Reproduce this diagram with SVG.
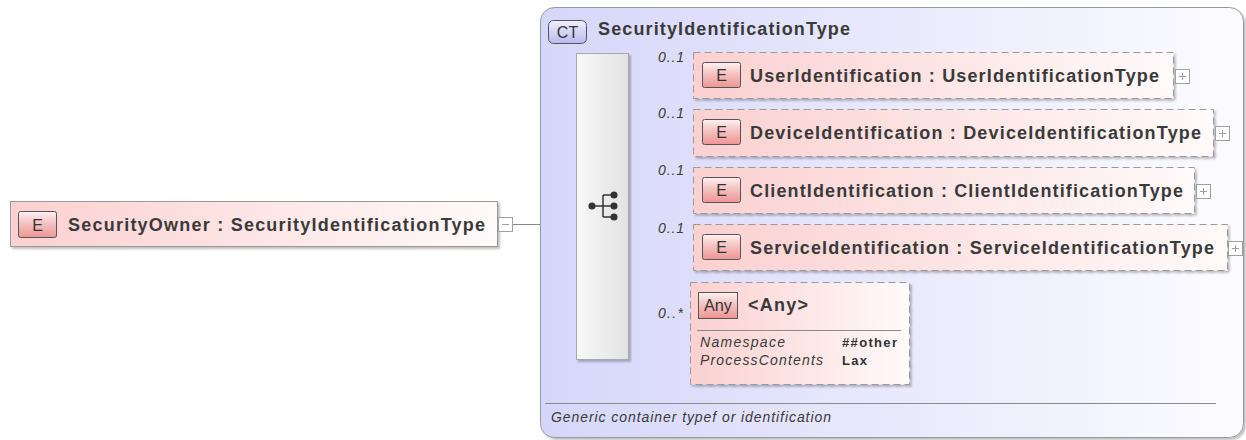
<svg xmlns="http://www.w3.org/2000/svg" width="1246" height="440" viewBox="0 0 1246 440">
<defs>
<linearGradient id="elemGrad" x1="0" y1="0" x2="1" y2="0"><stop offset="0" stop-color="#fbd0d0"/><stop offset="1" stop-color="#fffafa"/></linearGradient>
<linearGradient id="badgeGrad" x1="0" y1="0" x2="0" y2="1"><stop offset="0" stop-color="#fdf2f2"/><stop offset="0.45" stop-color="#f6c2c2"/><stop offset="1" stop-color="#ee9494"/></linearGradient>
<linearGradient id="ctGrad" x1="0" y1="0" x2="1" y2="0"><stop offset="0" stop-color="#d6d6fa"/><stop offset="1" stop-color="#fcfcff"/></linearGradient>
<linearGradient id="ctBadge" x1="0" y1="0" x2="0" y2="1"><stop offset="0" stop-color="#f0f0ff"/><stop offset="1" stop-color="#b8b8f0"/></linearGradient>
<linearGradient id="seqGrad" x1="0" y1="0" x2="1" y2="0"><stop offset="0" stop-color="#f8f8f8"/><stop offset="1" stop-color="#e2e2e2"/></linearGradient>
<filter id="shadow" x="-5%" y="-5%" width="110%" height="120%"><feDropShadow dx="2" dy="2" stdDeviation="1.2" flood-color="#000" flood-opacity="0.25"/></filter>
</defs>
<style>
.box{fill:url(#elemGrad);stroke:#9a9a9a;stroke-width:1;filter:url(#shadow)}
.opt{stroke-dasharray:7,4}
.badge{fill:url(#badgeGrad);stroke:#555;stroke-width:1}
.bl{font-family:"Liberation Sans",Arial,sans-serif;font-size:16px;fill:#333;text-anchor:middle}
.name{font-family:"Liberation Sans",Arial,sans-serif;font-size:18px;font-weight:bold;fill:#3a3a3a}
.it{font-family:"Liberation Sans",Arial,sans-serif;font-style:italic;font-size:14px;fill:#3a3a3a}
.small{font-family:"Liberation Sans",Arial,sans-serif;font-weight:bold;font-size:13px;fill:#333}
.ln{stroke:#8a8a8a;stroke-width:1;fill:none}
.pm{fill:#fff;stroke:#a0a0a0;stroke-width:1}
.pmsign{stroke:#a0a0a0;stroke-width:1;fill:none}
.icon{fill:#333;stroke:#333;stroke-width:1.5}
</style>

<g id="connectors">
<line class="ln" x1="512" y1="224.5" x2="540" y2="224.5"/>
<line class="ln" x1="540" y1="206.5" x2="576" y2="206.5"/>
<line class="ln" x1="629" y1="76.5" x2="693" y2="76.5"/>
<line class="ln" x1="629" y1="133.5" x2="693" y2="133.5"/>
<line class="ln" x1="629" y1="191.5" x2="693" y2="191.5"/>
<line class="ln" x1="629" y1="248.5" x2="693" y2="248.5"/>
<line class="ln" x1="629" y1="333.5" x2="690" y2="333.5"/>
</g>

<g id="SecurityOwner">
<rect class="box" x="10.5" y="201.5" width="487" height="45"/>
<rect class="badge" x="18.5" y="211.5" width="38" height="26" rx="2"/>
<text class="bl" x="37.5" y="230.5">E</text>
<text class="name" x="68" y="230.5" textLength="417" lengthAdjust="spacing">SecurityOwner : SecurityIdentificationType</text>
<rect class="pm" x="498.5" y="217.5" width="14" height="14"/>
<line class="pmsign" x1="502" y1="224.5" x2="509" y2="224.5"/>
</g>

<g id="SecurityIdentificationType">
<rect x="540.5" y="7.5" width="703" height="430" rx="14" fill="url(#ctGrad)" stroke="#9a9a9a" filter="url(#shadow)"/>
<rect x="548.5" y="20.5" width="38" height="23" rx="5" fill="url(#ctBadge)" stroke="#555"/>
<text class="bl" x="567.5" y="38">CT</text>
<text class="name" x="598" y="35" textLength="252" lengthAdjust="spacing">SecurityIdentificationType</text>
<line x1="545" y1="403.5" x2="1216" y2="403.5" stroke="#8a8a8a"/>
<text class="it" x="551" y="422" textLength="280" lengthAdjust="spacing">Generic container typef or identification</text>
</g>

<g id="sequence">
<rect x="576.5" y="53.5" width="52" height="306" fill="url(#seqGrad)" stroke="#a8a8a8" filter="url(#shadow)"/>
<line class="icon" x1="592" y1="206" x2="603" y2="206"/>
<line class="icon" x1="603" y1="195" x2="603" y2="217"/>
<line class="icon" x1="603" y1="195" x2="614" y2="195"/>
<line class="icon" x1="603" y1="206" x2="614" y2="206"/>
<line class="icon" x1="603" y1="217" x2="614" y2="217"/>
<circle class="icon" cx="592" cy="206" r="2.8"/>
<circle class="icon" cx="614" cy="195" r="2.8"/>
<circle class="icon" cx="614" cy="206" r="2.8"/>
<circle class="icon" cx="614" cy="217" r="2.8"/>
</g>

<g id="labels">
<text class="it" x="658" y="62" textLength="26" lengthAdjust="spacing">0..1</text>
<text class="it" x="658" y="118" textLength="26" lengthAdjust="spacing">0..1</text>
<text class="it" x="658" y="175" textLength="26" lengthAdjust="spacing">0..1</text>
<text class="it" x="658" y="233" textLength="26" lengthAdjust="spacing">0..1</text>
<text class="it" x="658" y="318" textLength="25" lengthAdjust="spacing">0..*</text>
</g>

<g id="UserIdentification">
<rect class="box opt" x="693.5" y="52.5" width="480" height="46"/>
<rect class="badge" x="702.5" y="62.5" width="38" height="25" rx="2"/>
<text class="bl" x="721.5" y="81">E</text>
<text class="name" x="750" y="81.5" textLength="409" lengthAdjust="spacing">UserIdentification : UserIdentificationType</text>
<rect class="pm" x="1175.5" y="69.5" width="14" height="14"/>
<path class="pmsign" d="M1179 76.5h7M1182.5 73v7"/>
</g>

<g id="DeviceIdentification">
<rect class="box opt" x="693.5" y="109.5" width="520" height="47"/>
<rect class="badge" x="702.5" y="119.5" width="38" height="25" rx="2"/>
<text class="bl" x="721.5" y="138">E</text>
<text class="name" x="750" y="138.5" textLength="451" lengthAdjust="spacing">DeviceIdentification : DeviceIdentificationType</text>
<rect class="pm" x="1215.5" y="126.5" width="14" height="14"/>
<path class="pmsign" d="M1219 133.5h7M1222.5 130v7"/>
</g>

<g id="ClientIdentification">
<rect class="box opt" x="693.5" y="167.5" width="501" height="46"/>
<rect class="badge" x="702.5" y="177.5" width="38" height="25" rx="2"/>
<text class="bl" x="721.5" y="196">E</text>
<text class="name" x="750" y="196.5" textLength="433" lengthAdjust="spacing">ClientIdentification : ClientIdentificationType</text>
<rect class="pm" x="1196.5" y="184.5" width="14" height="14"/>
<path class="pmsign" d="M1200 191.5h7M1203.5 188v7"/>
</g>

<g id="ServiceIdentification">
<rect class="box opt" x="693.5" y="224.5" width="534" height="46"/>
<rect class="badge" x="702.5" y="234.5" width="38" height="25" rx="2"/>
<text class="bl" x="721.5" y="253">E</text>
<text class="name" x="750" y="253.5" textLength="464" lengthAdjust="spacing">ServiceIdentification : ServiceIdentificationType</text>
<rect class="pm" x="1228.5" y="241.5" width="14" height="14"/>
<path class="pmsign" d="M1232 248.5h7M1235.5 245v7"/>
</g>

<g id="Any">
<rect class="box opt" x="690.5" y="282.5" width="219" height="102"/>
<rect class="badge" x="698.5" y="292.5" width="39" height="26"/>
<text class="bl" x="718" y="311" textLength="28" lengthAdjust="spacingAndGlyphs" font-size="17">Any</text>
<text class="name" x="748" y="311" textLength="60" lengthAdjust="spacing">&lt;Any&gt;</text>
<line x1="697" y1="330.5" x2="901" y2="330.5" stroke="#8a8a8a"/>
<text class="it" x="700" y="347" textLength="85" lengthAdjust="spacing">Namespace</text>
<text class="it" x="700" y="365" textLength="123" lengthAdjust="spacing">ProcessContents</text>
<text class="small" x="842" y="347" textLength="55" lengthAdjust="spacing">##other</text>
<text class="small" x="842" y="365" textLength="25" lengthAdjust="spacing">Lax</text>
</g>
</svg>
